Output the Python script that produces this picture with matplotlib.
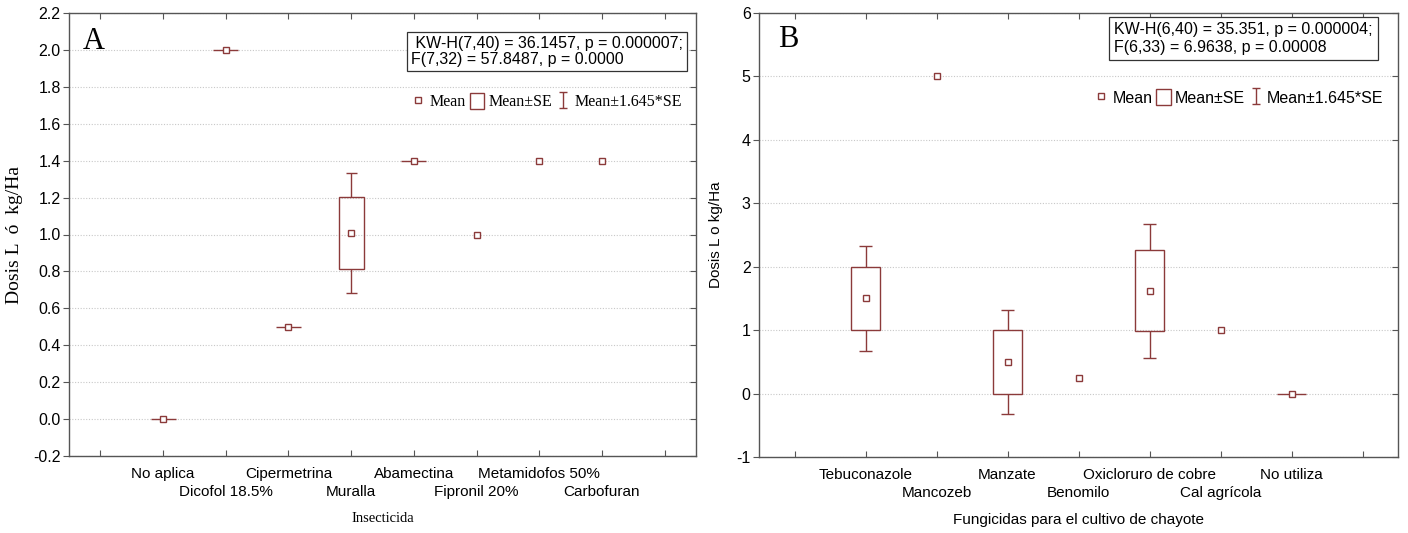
import numpy as np
import matplotlib
matplotlib.use('Agg')
import matplotlib.pyplot as plt
from matplotlib.patches import Rectangle
from matplotlib.lines import Line2D
from matplotlib.path import Path

# Panel A: insecticides
ins_cats = ['No aplica', 'Dicofol 18.5%', 'Cipermetrina', 'Muralla',
            'Abamectina', 'Fipronil 20%', 'Metamidofos 50%', 'Carbofuran']
ins_mean = [0.0, 2.0, 0.5, 1.008, 1.4, 1.0, 1.4, 1.4]
ins_se = [0.0, 0.0, 0.0, 0.197, 0.0, np.nan, np.nan, np.nan]
ins_stats = ' KW-H(7,40) = 36.1457, p = 0.000007;\nF(7,32) = 57.8487, p = 0.0000'

# Panel B: fungicides
fun_cats = ['Tebuconazole', 'Mancozeb', 'Manzate', 'Benomilo',
            'Oxicloruro de cobre', 'Cal agrícola', 'No utiliza']
fun_mean = [1.5, 5.0, 0.5, 0.25, 1.62, 1.0, 0.0]
fun_se = [0.5, np.nan, 0.5, np.nan, 0.64, np.nan, 0.0]
fun_stats = 'KW-H(6,40) = 35.351, p = 0.000004;\nF(6,33) = 6.9638, p = 0.00008'

col = '#8B3A3A'
spine_col = '#555555'
SANS = 'Liberation Sans'
SERIF = 'Liberation Serif'
plt.rcParams['font.family'] = [SANS, 'DejaVu Sans']
plt.rcParams['axes.unicode_minus'] = False

ibeam = Path([(-0.5, -1), (0.5, -1), (0, -1), (0, 1), (-0.5, 1), (0.5, 1)],
             [Path.MOVETO, Path.LINETO, Path.MOVETO, Path.LINETO, Path.MOVETO, Path.LINETO])


def draw_panel(ax, cats, means, ses):
    x = np.arange(1, len(cats) + 1)
    for xi, m, s in zip(x, means, ses):
        if np.isnan(s):
            continue
        if s == 0:
            ax.hlines(m, xi - 0.2, xi + 0.2, color=col, lw=1, zorder=2)
            continue
        ax.add_patch(Rectangle((xi - 0.2, m - s), 0.4, 2 * s, fill=False, ec=col, lw=1, zorder=2))
        ax.vlines(xi, m + s, m + 1.645 * s, color=col, lw=1)
        ax.vlines(xi, m - 1.645 * s, m - s, color=col, lw=1)
        ax.hlines([m + 1.645 * s, m - 1.645 * s], xi - 0.09, xi + 0.09, color=col, lw=1)
    ax.plot(x, means, ls='none', marker='s', mfc='white', mec=col, mew=1, ms=5, zorder=3)

    # category labels on two staggered rows: odd ones on major ticks, even ones on minor ticks
    n = len(cats)
    ax.set_xlim(-0.5, n + 1.5)
    ax.xaxis.remove_overlapping_locs = False
    ax.set_xticks(range(0, n + 2))
    ax.set_xticklabels([''] + [c if i % 2 == 0 else '' for i, c in enumerate(cats)] + [''], fontsize=11)
    ax.set_xticks(x[1::2], minor=True)
    ax.set_xticklabels(cats[1::2], minor=True, fontsize=11)
    ax.tick_params(axis='x', which='major', direction='in', top=True, length=4, pad=8, color=spine_col)
    ax.tick_params(axis='x', which='minor', length=0, pad=21)
    ax.tick_params(axis='y', which='both', left=True, right=True, length=4, pad=2,
                   color=spine_col, labelsize=11.5)
    for t in ax.yaxis.get_major_ticks():
        t.tick2line.set_marker(matplotlib.lines.TICKLEFT)
    ax.yaxis.grid(True, ls=(0, (1, 1.5)), color='#c8c8c8', lw=0.8)
    ax.set_axisbelow(True)
    for sp in ax.spines.values():
        sp.set_color(spine_col)
        sp.set_linewidth(1)


def add_legend(ax, family, y):
    h1 = Line2D([], [], ls='none', marker='s', mfc='white', mec=col, ms=5)
    h2 = Rectangle((0, 0), 1, 1, fill=False, ec=col, lw=1)
    h3 = Line2D([], [], ls='none', marker=ibeam, mfc='none', mec=col, ms=11, mew=1)
    ax.legend([h1, h2, h3], ['Mean', 'Mean±SE', 'Mean±1.645*SE'], ncol=3,
              loc='center right', bbox_to_anchor=(0.99, y), frameon=False,
              handlelength=0.9, handleheight=1.2, handletextpad=0.25,
              columnspacing=0.25, borderpad=0,
              prop={'family': family, 'size': 11.5})


fig = plt.figure(figsize=(14.08, 5.33), dpi=100)
axA = fig.add_axes([69 / 1408, 1 - 456 / 533, 627 / 1408, 443 / 533])
axB = fig.add_axes([759 / 1408, 1 - 457 / 533, 639 / 1408, 444 / 533])

draw_panel(axA, ins_cats, ins_mean, ins_se)
axA.set_ylim(-0.2, 2.2)
axA.set_yticks(np.arange(-0.2, 2.21, 0.2))
axA.set_yticklabels(['%.1f' % v for v in np.arange(-0.2, 2.21, 0.2)])
axA.set_ylabel('Dosis L  ó  kg/Ha', family=SERIF, fontsize=14, labelpad=7)
axA.set_xlabel('Insecticida', family=SERIF, fontsize=10.5, labelpad=9)
axA.text(0.022, 0.935, 'A', transform=axA.transAxes, family=SERIF, fontsize=22, va='center')
axA.text(0.545, 0.948, ins_stats, transform=axA.transAxes, fontsize=11.5, va='top', ha='left',
         linespacing=1.05,
         bbox=dict(boxstyle='square,pad=0.25', fc='white', ec='#333333', lw=0.9))
add_legend(axA, SERIF, 0.80)

draw_panel(axB, fun_cats, fun_mean, fun_se)
axB.set_ylim(-1, 6)
axB.set_yticks(range(-1, 7))
axB.set_ylabel('Dosis L o kg/Ha', fontsize=11, labelpad=10)
axB.set_xlabel('Fungicidas para el cultivo de chayote', fontsize=11, labelpad=9)
axB.text(0.03, 0.94, 'B', transform=axB.transAxes, family=SERIF, fontsize=22, va='center')
axB.text(0.556, 0.98, fun_stats, transform=axB.transAxes, fontsize=11.5, va='top', ha='left',
         linespacing=1.3,
         bbox=dict(boxstyle='square,pad=0.3', fc='white', ec='#333333', lw=0.9))
add_legend(axB, SANS, 0.81)

fig.savefig('out.png', dpi=100)
